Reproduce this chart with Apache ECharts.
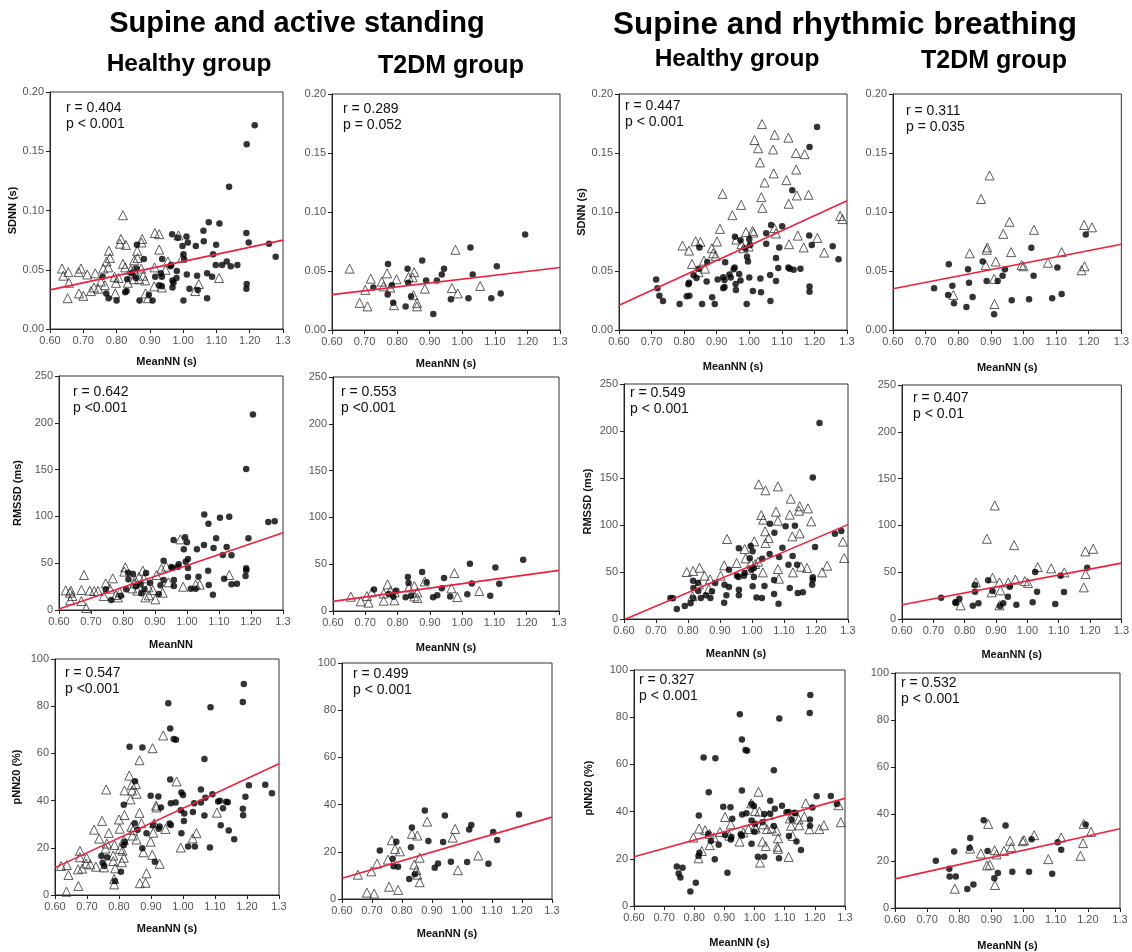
<!DOCTYPE html>
<html><head><meta charset="utf-8">
<script src="https://cdn.jsdelivr.net/npm/echarts@6/dist/echarts.min.js"></script>
<style>html,body{margin:0;padding:0;background:#fff}#c{width:1132px;height:952px}</style>
</head><body><div id="c"></div>
<script>
// ---------- DATA ----------
// Panel 1: SDNN, healthy, supine (circles) vs active standing (triangles)
const p1Circ=[[1.215,0.172],[1.191,0.156],[1.138,0.120],[1.077,0.090],[1.109,0.089],[1.061,0.083],[0.967,0.080],[1.190,0.081],[1.010,0.078],[0.984,0.077],[1.062,0.074],[1.014,0.073],[1.197,0.073],[1.258,0.072],[0.861,0.071],[0.998,0.070],[1.038,0.070],[1.099,0.071],[1.278,0.061],[1.090,0.063],[1.001,0.063],[1.003,0.059],[0.937,0.059],[0.882,0.059],[0.964,0.054],[0.962,0.053],[1.098,0.054],[1.131,0.057],[1.117,0.054],[1.143,0.053],[1.163,0.054],[0.860,0.051],[0.758,0.044],[0.845,0.047],[0.933,0.047],[0.936,0.044],[0.916,0.044],[0.981,0.049],[0.980,0.043],[1.011,0.046],[1.042,0.045],[0.968,0.041],[1.087,0.044],[1.072,0.047],[0.858,0.043],[0.832,0.042],[0.769,0.030],[0.776,0.026],[0.800,0.024],[0.826,0.031],[0.830,0.032],[0.869,0.024],[0.897,0.029],[0.908,0.024],[0.968,0.035],[0.971,0.039],[1.019,0.034],[1.044,0.033],[1.001,0.024],[1.072,0.026],[1.191,0.038],[1.190,0.034],[0.928,0.037],[0.936,0.036]];
const p1Tri=[[0.636,0.051],[0.640,0.045],[0.655,0.048],[0.657,0.039],[0.653,0.026],[0.686,0.048],[0.693,0.051],[0.687,0.030],[0.700,0.028],[0.712,0.046],[0.736,0.047],[0.723,0.032],[0.732,0.035],[0.745,0.034],[0.753,0.040],[0.765,0.037],[0.760,0.051],[0.770,0.057],[0.777,0.066],[0.780,0.060],[0.775,0.052],[0.794,0.044],[0.798,0.039],[0.796,0.030],[0.813,0.076],[0.810,0.072],[0.819,0.096],[0.828,0.071],[0.819,0.055],[0.826,0.052],[0.843,0.050],[0.852,0.050],[0.862,0.066],[0.863,0.060],[0.853,0.058],[0.877,0.076],[0.875,0.073],[0.874,0.051],[0.880,0.045],[0.886,0.041],[0.894,0.026],[0.887,0.030],[0.915,0.081],[0.928,0.080],[0.928,0.067],[0.914,0.052],[0.913,0.036],[0.936,0.035],[0.947,0.050],[0.954,0.057],[0.986,0.079],[0.997,0.060],[1.036,0.032],[1.047,0.038],[1.108,0.043],[0.868,0.042],[0.852,0.042],[0.848,0.047],[0.834,0.039],[0.806,0.043]];
// Panel 2: SDNN, T2DM, supine vs active standing
const p2Circ=[[1.193,0.081],[1.025,0.070],[1.106,0.054],[1.032,0.047],[0.877,0.059],[0.944,0.052],[0.937,0.047],[0.922,0.042],[0.889,0.042],[0.832,0.052],[0.834,0.040],[0.843,0.0285],[0.772,0.056],[0.784,0.038],[0.771,0.030],[0.727,0.036],[0.788,0.023],[0.826,0.020],[0.911,0.0135],[0.965,0.026],[1.019,0.027],[1.089,0.027],[1.118,0.031]];
const p2Tri=[[0.654,0.052],[0.685,0.023],[0.702,0.034],[0.709,0.020],[0.719,0.0435],[0.753,0.041],[0.758,0.037],[0.769,0.048],[0.779,0.036],[0.798,0.043],[0.790,0.021],[0.835,0.045],[0.848,0.0446],[0.852,0.049],[0.850,0.0295],[0.861,0.023],[0.861,0.020],[0.885,0.035],[0.979,0.068],[0.968,0.0356],[0.986,0.031],[1.055,0.0373]];
// Panel 3: SDNN, healthy, supine vs rhythmic breathing
const p3Circ=[[1.208,0.172],[1.185,0.155],[1.132,0.1185],[1.067,0.089],[1.101,0.088],[1.052,0.082],[0.956,0.079],[1.184,0.080],[1.000,0.077],[0.973,0.076],[1.052,0.073],[1.003,0.072],[1.192,0.072],[1.092,0.070],[1.256,0.071],[0.847,0.070],[0.988,0.069],[1.274,0.060],[1.082,0.061],[0.993,0.062],[0.996,0.058],[0.926,0.0574],[0.871,0.0577],[0.955,0.053],[0.952,0.0515],[1.089,0.0526],[1.124,0.052],[1.120,0.053],[1.136,0.051],[1.157,0.052],[0.845,0.052],[0.829,0.0464],[0.838,0.044],[0.714,0.0427],[0.718,0.0354],[0.724,0.029],[0.735,0.0246],[0.786,0.022],[0.808,0.0286],[0.813,0.0388],[0.815,0.040],[0.816,0.029],[0.869,0.041],[0.886,0.0277],[0.894,0.022],[0.855,0.022],[0.903,0.0427],[0.920,0.0447],[0.924,0.0424],[0.920,0.0354],[0.924,0.0365],[0.939,0.047],[0.943,0.0444],[0.958,0.039],[0.959,0.034],[0.969,0.0475],[0.973,0.042],[1.000,0.0444],[1.011,0.033],[0.992,0.022],[1.034,0.0436],[1.036,0.032],[1.064,0.0467],[1.065,0.0246],[1.082,0.0416],[1.185,0.0368],[1.185,0.0325]];
const p3Tri=[[1.039,0.1745],[1.016,0.161],[1.078,0.1655],[1.027,0.154],[1.073,0.153],[1.120,0.163],[1.143,0.150],[1.170,0.149],[1.033,0.142],[1.075,0.1327],[1.047,0.125],[1.144,0.136],[1.114,0.127],[0.918,0.1154],[1.037,0.1126],[1.146,0.114],[1.182,0.1146],[0.975,0.106],[1.040,0.1035],[1.121,0.107],[0.948,0.0973],[1.279,0.0967],[1.286,0.094],[0.910,0.0857],[0.990,0.083],[1.010,0.084],[1.013,0.0826],[1.077,0.0863],[1.082,0.0818],[1.149,0.080],[1.209,0.078],[1.122,0.0727],[1.167,0.070],[1.230,0.0656],[0.998,0.0707],[0.976,0.0727],[0.982,0.0693],[0.795,0.0716],[0.815,0.0673],[0.835,0.0752],[0.850,0.0747],[0.901,0.075],[0.885,0.0693],[0.889,0.065],[0.897,0.0628],[0.824,0.056],[0.861,0.0588],[0.864,0.052],[0.844,0.049],[0.960,0.0767]];
// Panel 4: SDNN, T2DM, supine vs rhythmic breathing
const p4Circ=[[1.191,0.081],[1.024,0.0696],[1.104,0.053],[1.031,0.046],[0.875,0.058],[0.943,0.0515],[0.936,0.046],[0.921,0.0416],[0.887,0.0416],[0.830,0.0515],[0.833,0.040],[0.844,0.028],[0.771,0.0557],[0.782,0.0376],[0.769,0.0297],[0.726,0.0354],[0.787,0.0226],[0.825,0.0195],[0.910,0.0133],[0.964,0.0252],[1.017,0.026],[1.088,0.0269],[1.117,0.0306]];
const p4Tri=[[0.896,0.131],[0.870,0.111],[0.957,0.0917],[0.938,0.0815],[1.032,0.0849],[0.835,0.065],[0.889,0.070],[0.887,0.068],[0.915,0.058],[0.962,0.066],[0.884,0.055],[0.994,0.055],[1.000,0.054],[1.075,0.057],[1.117,0.066],[1.186,0.089],[1.210,0.087],[1.187,0.054],[1.178,0.0506],[0.910,0.0433],[0.911,0.022],[0.785,0.0297]];
// Panel 5: RMSSD, healthy, supine vs active standing
const p5Circ=[[1.206,209],[1.185,150.6],[1.054,101.9],[1.067,92.2],[1.103,98.6],[1.132,99.7],[1.254,94.0],[1.274,94.7],[1.192,76.6],[1.091,76.6],[0.994,77.6],[1.000,72.3],[0.958,74.8],[0.990,64.8],[1.031,64.8],[1.053,69.4],[1.083,66.2],[1.124,67.3],[1.112,58.8],[1.139,58.4],[1.003,54.5],[0.996,51.6],[0.927,52.7],[0.974,48.8],[0.972,46.3],[0.951,45.9],[0.955,44.9],[1.003,44.9],[1.036,35.6],[1.003,35.3],[1.066,42.0],[1.068,26.7],[1.027,22.8],[1.012,22.8],[1.116,33.5],[1.139,27.4],[1.156,28.1],[1.183,36.3],[1.185,42.4],[1.185,44.5],[1.081,16.4],[0.959,32.1],[0.959,25.6],[0.927,32.1],[0.917,26.4],[0.912,17.1],[0.885,29.2],[0.872,39.5],[0.855,27.4],[0.867,22.1],[0.857,17.8],[0.831,38.5],[0.816,39.9],[0.817,32.8],[0.810,22.1],[0.746,22.1],[0.763,10.7],[0.840,25.3],[0.793,15.3]];
const p5Tri=[[0.621,21.0],[0.634,18.5],[0.637,20.7],[0.642,15.0],[0.635,10.3],[0.670,21.4],[0.670,9.6],[0.678,37.4],[0.685,2.1],[0.696,20.7],[0.710,20.3],[0.722,20.3],[0.740,15.0],[0.746,28.5],[0.759,22.8],[0.768,33.8],[0.778,16.0],[0.784,13.5],[0.790,18.9],[0.807,45.6],[0.804,41.0],[0.829,23.1],[0.836,28.5],[0.838,32.1],[0.850,35.6],[0.862,42.0],[0.865,33.8],[0.845,20.7],[0.870,13.5],[0.881,15.7],[0.893,21.4],[0.901,11.4],[0.905,37.4],[0.920,44.2],[0.924,18.5],[0.935,46.3],[0.942,29.6],[0.979,75.5],[0.988,24.9],[1.027,27.1],[1.040,27.1],[1.132,37.4],[0.879,24.2]];
// Panel 6: RMSSD, T2DM, supine vs active standing
const p6Circ=[[1.189,54.8],[1.024,50.5],[1.103,46.6],[1.030,29.5],[1.115,29.2],[0.876,41.6],[0.944,35.2],[0.937,24.2],[0.832,36.3],[0.834,29.9],[0.842,16.4],[0.825,14.6],[0.727,23.1],[0.773,18.1],[0.796,21.7],[0.787,15.3],[0.910,14.6],[0.923,16.7],[0.963,15.6],[1.016,17.8],[1.087,16.4],[0.890,30.6]];
const p6Tri=[[0.655,15.3],[0.686,10.3],[0.705,16.0],[0.710,8.9],[0.720,19.9],[0.757,11.0],[0.757,18.8],[0.769,28.4],[0.778,22.0],[0.791,19.9],[0.790,11.4],[0.835,25.2],[0.852,26.7],[0.852,15.6],[0.861,13.9],[0.861,19.9],[0.884,31.6],[0.976,40.5],[0.967,24.2],[0.985,14.9],[1.053,21.3]];
// Panel 7: RMSSD, healthy, supine vs rhythmic breathing
const p7Circ=[[1.211,208.5],[1.190,150.4],[1.056,101.4],[1.070,91.8],[1.105,98.6],[1.134,99.3],[1.259,90.8],[1.279,93.6],[1.197,76.6],[1.095,75.9],[0.996,77.7],[1.002,72.0],[0.959,75.2],[0.993,64.5],[1.032,64.2],[1.055,69.1],[1.085,66.0],[1.127,67.0],[1.114,57.8],[1.141,57.8],[1.006,54.3],[0.998,52.5],[0.928,52.5],[0.977,48.9],[0.975,46.1],[0.953,46.1],[0.958,44.7],[1.006,44.7],[1.039,35.1],[1.002,34.8],[1.069,41.5],[1.069,26.6],[1.031,22.3],[1.014,23.0],[1.118,33.0],[1.143,27.7],[1.159,28.4],[1.188,36.5],[1.190,41.8],[1.190,44.3],[1.083,16.3],[0.959,31.2],[0.959,25.2],[0.928,34.0],[0.920,25.2],[0.913,17.4],[0.885,38.3],[0.875,29.4],[0.856,25.2],[0.870,22.3],[0.840,22.3],[0.831,38.3],[0.816,40.8],[0.817,33.0],[0.816,22.3],[0.808,16.7],[0.790,13.8],[0.765,10.6],[0.753,22.0],[0.745,22.3],[0.832,29.8],[0.914,36.5]];
const p7Tri=[[1.021,143.3],[1.042,136.9],[1.081,141.1],[1.029,110.6],[1.035,105.7],[1.075,114.2],[1.081,104.6],[1.121,128.0],[1.118,111.0],[1.149,119.9],[1.147,115.2],[1.175,117.7],[1.185,103.9],[1.041,93.3],[1.052,86.2],[1.042,80.9],[1.126,87.9],[1.149,91.1],[1.284,82.3],[1.288,64.9],[0.922,85.1],[1.007,82.6],[0.952,59.6],[0.980,64.5],[1.019,61.0],[1.010,58.5],[0.991,52.5],[1.034,49.6],[0.996,59.6],[1.081,53.2],[1.084,42.9],[1.128,49.6],[1.153,55.7],[1.172,54.3],[1.219,49.6],[1.235,56.7],[0.913,57.1],[0.902,46.1],[0.869,42.2],[0.852,46.1],[0.836,54.6],[0.816,51.1],[0.796,50.0],[0.834,36.9],[0.865,31.9],[0.814,24.1],[0.977,74.5]];
// Panel 8: RMSSD, T2DM, supine vs rhythmic breathing
const p8Circ=[[1.191,54.8],[1.025,50.1],[1.106,46.2],[1.031,29.2],[1.117,28.8],[0.875,41.3],[0.944,34.5],[0.938,23.8],[0.833,36.3],[0.833,29.2],[0.844,16.7],[0.826,14.2],[0.725,22.8],[0.771,18.1],[0.783,21.7],[0.771,17.1],[0.889,29.9],[0.913,13.9],[0.923,16.7],[0.965,15.3],[1.017,17.8],[1.089,16.0]];
const p8Tri=[[0.871,85.7],[0.896,121.3],[0.958,78.9],[0.836,39.1],[0.889,44.1],[0.911,39.1],[0.939,39.1],[0.962,42.0],[0.992,40.5],[1.002,38.4],[1.033,55.5],[1.076,54.1],[1.118,49.8],[1.185,72.2],[1.210,75.0],[1.186,48.0],[1.180,33.8],[0.886,28.5],[0.914,30.6],[0.787,14.6],[0.911,14.6]];
// Panel 9: pNN20, healthy, supine vs active standing
const p9Circ=[[1.190,89.4],[1.187,81.8],[1.086,79.6],[0.954,81.2],[0.960,70.6],[0.971,66.1],[0.978,65.8],[0.833,62.8],[0.873,62.5],[1.067,57.6],[0.960,48.9],[0.850,48.2],[1.257,46.7],[1.206,46.5],[1.278,43.1],[1.195,41.6],[1.056,44.7],[1.092,42.7],[0.995,43.4],[1.000,42.4],[0.899,42.1],[0.923,41.7],[1.070,41.2],[1.110,39.6],[1.115,39.9],[1.135,39.5],[1.140,39.3],[1.035,38.9],[1.056,39.2],[0.962,38.9],[0.815,38.2],[1.125,36.8],[1.187,36.5],[1.188,33.8],[1.067,33.7],[0.977,39.2],[0.993,35.9],[1.004,34.5],[1.031,35.2],[1.003,31.4],[0.931,37.1],[0.958,30.3],[0.962,29.7],[0.927,29.0],[0.924,28.1],[0.906,29.7],[0.886,26.2],[0.849,30.4],[0.858,27.6],[0.873,19.8],[0.995,26.2],[1.118,29.6],[1.143,27.3],[1.160,23.6],[1.016,20.6],[1.037,20.6],[1.084,20.1],[0.818,22.6],[0.815,21.2],[0.745,16.5],[0.763,16.0],[0.749,13.7],[0.754,12.3],[0.806,9.8],[0.787,5.9],[0.912,14.1]];
const p9Tri=[[0.938,67.6],[0.905,62.2],[0.864,57.1],[0.832,50.6],[0.840,46.7],[0.853,47.0],[0.841,44.3],[0.855,42.9],[0.980,48.1],[0.836,40.5],[0.760,44.7],[0.817,44.3],[0.916,37.9],[0.917,37.1],[0.800,32.0],[0.817,33.9],[0.864,34.8],[0.870,30.4],[0.747,31.4],[0.722,27.7],[0.738,23.9],[0.768,26.3],[0.802,28.1],[0.839,28.9],[0.844,27.6],[0.842,25.2],[0.855,23.5],[0.762,21.8],[0.758,19.7],[0.786,21.2],[0.815,23.3],[0.803,19.5],[0.907,26.4],[0.910,30.4],[0.945,28.0],[0.899,22.6],[1.030,24.0],[1.042,26.2],[0.993,20.1],[1.106,34.9],[0.678,18.7],[0.678,16.0],[0.699,15.7],[0.697,13.3],[0.710,13.0],[0.728,12.0],[0.685,11.2],[0.672,10.9],[0.619,12.3],[0.637,12.7],[0.642,8.5],[0.636,1.4],[0.673,3.8],[0.753,11.7],[0.782,14.4],[0.788,11.3],[0.782,16.7],[0.809,13.9],[0.815,15.8],[0.811,18.8],[0.785,6.8],[0.785,4.5],[0.865,5.0],[0.883,5.2],[0.886,9.2],[0.876,18.1],[0.904,17.0],[0.927,13.2]];
// Panel 10: pNN20, T2DM, supine vs active standing
const p10Circ=[[1.190,35.8],[1.104,28.4],[1.117,25.0],[1.031,31.4],[1.024,29.4],[0.876,37.5],[0.943,35.4],[0.937,24.2],[0.888,24.6],[0.830,21.9],[0.833,30.3],[0.726,20.5],[0.781,24.3],[0.769,17.1],[0.772,13.9],[0.787,13.7],[0.824,8.5],[0.843,10.5],[0.909,13.2],[0.920,15.0],[0.963,15.8],[1.017,15.7],[1.088,14.9]];
const p10Tri=[[0.653,10.3],[0.683,2.7],[0.698,11.7],[0.707,2.3],[0.717,15.0],[0.753,16.7],[0.757,5.2],[0.766,24.9],[0.777,21.2],[0.793,20.2],[0.787,3.8],[0.833,27.6],[0.851,26.9],[0.841,14.6],[0.848,12.2],[0.851,10.3],[0.859,17.5],[0.859,7.1],[0.884,32.8],[0.977,29.7],[0.969,26.0],[0.986,12.2],[1.054,18.4]];
// Panel 11: pNN20, healthy, supine vs rhythmic breathing
const p11Circ=[[1.185,89.4],[1.183,81.8],[1.082,79.5],[0.951,81.2],[0.958,70.6],[0.970,66.1],[0.975,65.8],[0.831,62.9],[0.870,62.6],[1.064,57.5],[0.958,48.9],[0.848,48.2],[1.253,46.6],[1.206,46.5],[1.273,43.2],[1.192,41.7],[1.052,44.6],[1.091,42.5],[0.990,43.2],[0.998,42.4],[0.896,42.1],[0.920,41.8],[1.067,41.2],[1.106,39.7],[1.113,39.8],[1.132,39.5],[1.136,39.3],[1.032,39.0],[1.052,39.1],[0.959,38.8],[0.815,38.3],[1.123,36.6],[1.184,36.6],[1.184,34.0],[1.064,33.9],[0.973,39.3],[0.990,36.2],[1.002,34.9],[1.026,35.5],[1.000,31.5],[0.926,37.0],[0.954,30.4],[0.958,29.8],[0.923,29.2],[0.921,28.2],[0.902,30.1],[0.881,26.0],[0.846,30.5],[0.855,27.5],[0.868,19.8],[0.990,26.4],[1.114,29.7],[1.139,27.3],[1.154,23.7],[1.011,20.9],[1.032,20.9],[1.081,20.2],[0.817,22.6],[0.814,21.2],[0.742,16.7],[0.761,16.2],[0.748,13.8],[0.754,12.1],[0.805,9.9],[0.787,6.1],[0.910,14.1]];
const p11Tri=[[1.013,48.4],[0.989,43.5],[0.902,37.7],[1.170,43.5],[1.279,42.7],[1.286,35.5],[0.816,32.8],[0.836,32.1],[0.851,30.6],[0.885,31.4],[0.921,34.6],[0.916,29.8],[0.797,29.0],[0.825,23.3],[0.814,20.2],[0.851,25.8],[0.865,29.1],[0.950,27.3],[0.963,31.2],[0.980,32.6],[1.001,33.6],[1.004,32.8],[1.016,40.0],[1.029,34.6],[1.041,32.6],[1.046,38.6],[1.057,32.9],[1.018,18.4],[1.026,27.3],[1.037,25.4],[1.073,31.9],[1.078,28.7],[1.076,25.1],[1.078,24.2],[1.113,20.8],[1.117,37.1],[1.121,34.0],[1.126,29.7],[1.146,36.7],[1.148,34.2],[1.165,37.9],[1.182,32.5],[1.215,32.6],[1.230,34.2],[1.001,40.3]];
// Panel 12: pNN20, T2DM, supine vs rhythmic breathing
const p12Circ=[[1.193,35.5],[1.025,29.3],[1.106,28.0],[1.117,24.8],[0.876,37.3],[0.944,35.1],[0.834,29.8],[0.832,25.5],[0.888,24.3],[0.727,20.1],[0.784,24.0],[0.769,16.7],[0.770,13.4],[0.789,13.4],[0.825,8.1],[0.844,10.0],[0.909,12.7],[0.920,14.9],[0.965,15.4],[1.017,15.4],[1.089,14.6]];
const p12Tri=[[0.786,8.2],[0.834,25.3],[0.867,23.2],[0.890,35.8],[0.886,18.1],[0.895,18.4],[0.910,24.6],[0.916,22.8],[0.911,9.8],[0.939,24.3],[0.958,28.6],[0.962,25.9],[0.997,28.4],[1.001,28.9],[1.033,31.0],[1.077,20.8],[1.117,30.0],[1.177,22.2],[1.185,27.6],[1.187,35.8],[1.210,32.4]];

// regression line endpoints [x0, y0, x1, y1]
const regLines=[[0.6,0.033,1.3,0.075],[0.6,0.030,1.3,0.053],[0.6,0.021,1.3,0.1095],[0.6,0.035,1.3,0.0727],
                [0.6,1.0,1.3,82.6],[0.6,10.3,1.3,43.4],[0.605,0,1.3,100.4],[0.6,15.3,1.3,59.7],
                [0.6,11.6,1.3,55.6],[0.6,8.8,1.3,34.7],[0.6,20.9,1.3,45.6],[0.6,12.4,1.3,33.7]];
const statR=['r = 0.404','r = 0.289','r = 0.447','r = 0.311','r = 0.642','r = 0.553','r = 0.549','r = 0.407','r = 0.547','r = 0.499','r = 0.327','r = 0.532'];
const statP=['p < 0.001','p = 0.052','p < 0.001','p = 0.035','p <0.001','p <0.001','p < 0.001','p < 0.01','p <0.001','p < 0.001','p < 0.001','p < 0.001'];
const xNames=['MeanNN (s)','MeanNN (s)','MeanNN (s)','MeanNN (s)','MeanNN','MeanNN (s)','MeanNN (s)','MeanNN (s)','MeanNN (s)','MeanNN (s)','MeanNN (s)','MeanNN (s)'];
const yNames=['SDNN (s)','','SDNN (s)','','RMSSD (ms)','','RMSSD (ms)','','pNN20 (%)','','pNN20 (%)',''];
const yRanges=[[0,0.2,0.05],[0,250,50],[0,100,20]];
const xRange=[0.6,1.3,0.1];
const mainTitles=['Supine and active standing','Supine and rhythmic breathing'];
const groupTitles=['Healthy group','T2DM group','Healthy group','T2DM group'];
const circSets=[p1Circ,p2Circ,p3Circ,p4Circ,p5Circ,p6Circ,p7Circ,p8Circ,p9Circ,p10Circ,p11Circ,p12Circ];
const triSets=[p1Tri,p2Tri,p3Tri,p4Tri,p5Tri,p6Tri,p7Tri,p8Tri,p9Tri,p10Tri,p11Tri,p12Tri];

// ---------- LAYOUT ----------
const boxes=[ // [left, top, right, bottom]
 [50,92,283,329],[332,94,560,330],[619,94,847,330],[893,94,1122,330],
 [59,376,283,610],[333,377,559,611],[624,384,848,619],[902,385,1126,619],
 [55,659,279,895],[342,663,552,899],[634,670,845,906],[895,673,1120,908]];
const xNameGap=[27,28,31,32,29,31,29,30,28,29,31,32];
const yNameGap=[26,0,27,0,36,0,31,0,33,0,40,0];
const statOff=[[16,16],[11,15],[6,12],[13,17],[14,16],[8,15],[6,9],[11,13],[10,14],[11,11],[5,10],[6,10]];
const FONT='"Liberation Sans", Arial, Helvetica, sans-serif';

const grid=[],xAxis=[],yAxis=[],series=[],graphic=[];
boxes.forEach((b,i)=>{
  const row=Math.floor(i/4);
  const yr=yRanges[row];
  grid.push({left:b[0],top:b[1],width:b[2]-b[0],height:b[3]-b[1],show:true,borderColor:'#333',borderWidth:1,containLabel:false});
  xAxis.push({gridIndex:i,type:'value',min:xRange[0],max:xRange[1],interval:xRange[2],
    name:xNames[i],nameLocation:'middle',nameGap:xNameGap[i],
    nameTextStyle:{fontFamily:FONT,fontWeight:'bold',fontSize:11,color:'#111'},
    axisLine:{lineStyle:{color:'#222',width:1}},
    axisTick:{show:true,inside:false,length:4,lineStyle:{color:'#222'}},
    axisLabel:{fontFamily:FONT,fontSize:11,color:'#555',margin:6,
      formatter:v=>Math.abs(v-1.3)<1e-6?'1.3':v.toFixed(2),showMinLabel:true,showMaxLabel:true},
    splitLine:{show:false}});
  yAxis.push({gridIndex:i,type:'value',min:yr[0],max:yr[1],interval:yr[2],
    name:yNames[i],nameLocation:'middle',nameGap:yNameGap[i],nameRotate:90,
    nameTextStyle:{fontFamily:FONT,fontWeight:'bold',fontSize:11,color:'#111'},
    axisLine:{show:true,lineStyle:{color:'#222',width:1}},
    axisTick:{show:true,inside:false,length:4,lineStyle:{color:'#222'}},
    axisLabel:{fontFamily:FONT,fontSize:11,color:'#555',margin:6,
      formatter:v=>row===0?v.toFixed(2):String(Math.round(v))},
    splitLine:{show:false}});
  series.push({type:'scatter',xAxisIndex:i,yAxisIndex:i,data:triSets[i],symbol:'triangle',symbolSize:9,
    itemStyle:{color:'rgba(255,255,255,0)',borderColor:'#333',borderWidth:1},silent:true,z:2});
  series.push({type:'scatter',xAxisIndex:i,yAxisIndex:i,data:circSets[i],symbol:'circle',symbolSize:6.5,
    itemStyle:{color:'#000'},silent:true,z:3});
  const L=regLines[i];
  series.push({type:'line',xAxisIndex:i,yAxisIndex:i,data:[[L[0],L[1]],[L[2],L[3]]],showSymbol:false,
    lineStyle:{color:'#f0203c',width:1.6},silent:true,z:4});
  graphic.push({type:'text',left:b[0]+statOff[i][0],top:b[1]+statOff[i][1]-8,
    style:{text:statR[i]+'\n'+statP[i],font:'14px '+FONT,fill:'#111',lineHeight:16}});
});
// titles
const titleCenters=[[297,24],[845,25]];
const titleSizes=[29,31.5];
mainTitles.forEach((t,k)=>graphic.push({type:'text',x:titleCenters[k][0],y:titleCenters[k][1],
  style:{text:t,font:'bold '+titleSizes[k]+'px '+FONT,fill:'#000',textAlign:'center',textVerticalAlign:'middle'}}));
const groupCenters=[[189,64],[451,66],[737,59],[994,61]];
const groupSizes=[24.5,25,24.5,25];
groupTitles.forEach((t,k)=>graphic.push({type:'text',x:groupCenters[k][0],y:groupCenters[k][1],
  style:{text:t,font:'bold '+groupSizes[k]+'px '+FONT,fill:'#000',textAlign:'center',textVerticalAlign:'middle'}}));

const chart=echarts.init(document.getElementById('c'),null,{renderer:'canvas'});
chart.setOption({animation:false,backgroundColor:'#fff',grid,xAxis,yAxis,series,graphic});
</script></body></html>
